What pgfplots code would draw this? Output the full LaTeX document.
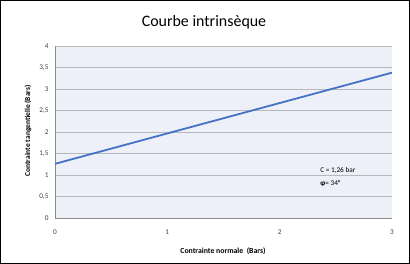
\documentclass[border=0pt]{standalone}
\usepackage{pgfplots}
\pgfplotsset{compat=1.18}
\usepackage{fontspec}
\setmainfont{Carlito}
\definecolor{bg}{HTML}{EEF0F9}
\definecolor{gridc}{HTML}{B8B8B8}
\definecolor{linec}{HTML}{4472C4}
\definecolor{tickc}{HTML}{404040}
\begin{document}
\begin{tikzpicture}[x=1bp,y=1bp]
\draw[black, line width=1bp] (0.5,0.5) rectangle (409.5,263.5);
\node[font=\fontsize{16}{18}\selectfont] at (204,242) {Courbe intrinsèque};
\node[rotate=90, font=\bfseries\fontsize{7.5}{8}\selectfont] at (28,133) {Contrainte tangentielle (Bars)};
\node[font=\bfseries\fontsize{7.8}{8}\selectfont] at (223,13) {Contrainte normale\ \ (Bars)};
\begin{axis}[at={(55bp,46bp)}, anchor=south west, scale only axis,
  width=337bp, height=172bp,
  xmin=0, xmax=3, ymin=0, ymax=4,
  axis background/.style={fill=bg},
  ymajorgrids, grid style={gridc, line width=0.9bp},
  ytick={0,0.5,...,4}, xtick={0,1,2,3},
  axis x line*=bottom, axis y line*=left,
  axis line style={-, draw=gray!90, line width=0.9bp},
  major tick length=0pt,
  /pgf/number format/assume math mode=true,
  /pgf/number format/use comma,
  ticklabel style={font=\fontsize{7.3}{8}\selectfont, text=tickc},
  xticklabel style={yshift=-8bp},
  yticklabel style={xshift=-3bp},
  clip=false]
\addplot[linec, line width=1.8bp] coordinates {(0,1.26) (3,3.38)};
\node[anchor=west, font=\fontsize{7.3}{9}\selectfont] at (axis cs:2.33,1.11) {C = 1,26 bar};
\node[anchor=west, font=\fontsize{7.3}{9}\selectfont] at (axis cs:2.33,0.80) {\textbf{φ}= 34°};
\end{axis}
\end{tikzpicture}
\end{document}
